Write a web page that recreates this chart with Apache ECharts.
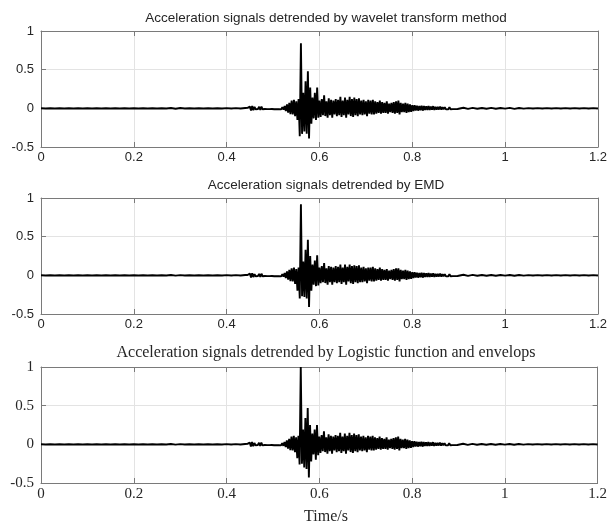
<!DOCTYPE html>
<html>
<head>
<meta charset="utf-8">
<script src="https://cdn.jsdelivr.net/npm/echarts@6/dist/echarts.min.js"></script>
<style>html,body{margin:0;padding:0;background:#fff}#c{width:610px;height:526px}</style>
</head>
<body>
<div id="c"></div>
<script>
// ---- data ----
const titles = [
  'Acceleration signals detrended by wavelet transform method',
  'Acceleration signals detrended by EMD',
  'Acceleration signals detrended by Logistic function and envelops'
];
const xTicks = [0, 0.2, 0.4, 0.6, 0.8, 1, 1.2];
const yTicks = [-0.5, 0, 0.5, 1];
const xLabel = 'Time/s';

// sampling of the three record segments (start time, step)
const quietStart = 0, quietStep = 0.01;
const burstStart = 0.44, burstStep = 0.0025;
const tailStart = 0.91, tailStep = 0.01;

// quiet part 0 .. 0.43 s
const quiet1 = [0.002,-0.002,0.002,-0.002,0.002,-0.002,0.002,-0.002,0.002,-0.002,0.002,-0.002,0.002,-0.002,0.002,-0.002,0.002,-0.002,0.002,-0.002,0.002,-0.002,0.002,-0.002,0.002,-0.002,0.002,-0.002,0.004,-0.005,0.004,-0.002,0.002,-0.002,0.002,-0.002,0.002,-0.002,0.002,-0.002,0.003,-0.003,0.003,-0.003];
const quiet2 = [0.002,-0.002,0.002,-0.002,0.002,-0.002,0.002,-0.002,0.002,-0.002,0.002,-0.002,0.002,-0.002,0.002,-0.002,0.002,-0.002,0.002,-0.002,0.002,-0.002,0.002,-0.002,0.002,-0.002,0.002,-0.002,0.004,-0.004,0.003,-0.002,0.002,-0.002,0.002,-0.002,0.002,-0.002,0.002,-0.002,0.003,-0.003,0.003,-0.003];
const quiet3 = [0.002,-0.002,0.002,-0.002,0.002,-0.002,0.002,-0.002,0.002,-0.002,0.002,-0.002,0.002,-0.002,0.002,-0.002,0.002,-0.002,0.002,-0.002,0.002,-0.002,0.002,-0.002,0.002,-0.002,0.002,-0.002,0.004,-0.004,0.003,-0.002,0.002,-0.002,0.002,-0.002,0.002,-0.002,0.002,-0.002,0.003,-0.003,0.003,-0.003];

// burst 0.44 .. 0.90 s
const burst1 = [
  0.004,-0.005,0.006,-0.005,0.022,-0.028,0.03,-0.024,0.018,-0.012,
  0.01,-0.008,0.02,-0.022,0.022,-0.012,0.01,-0.009,0.012,-0.01,
  0.008,-0.01,0.013,-0.009,0.011,-0.012,0.009,-0.01,0.013,-0.011,
  0.012,-0.013,0.016,-0.018,0.03,-0.035,0.05,-0.055,0.07,-0.075,
  0.1,-0.08,0.11,-0.1,0.09,-0.15,0.12,-0.36,0.84,-0.33,
  0.2,-0.3,0.35,-0.33,0.48,-0.39,0.27,-0.2,0.14,-0.13,
  0.2,-0.15,0.27,-0.12,0.1,-0.11,0.12,-0.09,0.17,-0.1,
  0.09,-0.12,0.13,-0.09,0.11,-0.12,0.1,-0.08,0.12,-0.1,
  0.11,-0.09,0.15,-0.11,0.1,-0.09,0.14,-0.12,0.11,-0.08,
  0.15,-0.1,0.12,-0.11,0.14,-0.09,0.12,-0.1,0.13,-0.08,
  0.1,-0.09,0.11,-0.08,0.09,-0.1,0.11,-0.07,0.1,-0.08,
  0.11,-0.08,0.09,-0.07,0.08,-0.06,0.1,-0.07,0.08,-0.06,
  0.07,-0.06,0.09,-0.07,0.06,-0.05,0.07,-0.06,0.08,-0.07,
  0.09,-0.06,0.1,-0.08,0.07,-0.05,0.06,-0.05,0.07,-0.06,
  0.06,-0.05,0.05,-0.045,0.04,-0.035,0.04,-0.03,0.035,-0.03,
  0.03,-0.025,0.035,-0.03,0.03,-0.02,0.025,-0.02,0.03,-0.02,
  0.022,-0.018,0.028,-0.02,0.018,-0.015,0.018,-0.015,0.022,-0.018,
  0.015,-0.012,0.016,-0.013,0.012,-0.011,0.015,-0.012,0.011,-0.01,
  0.012,-0.01,0.01,-0.008,0.008
];
const burst2 = [
  0.004,-0.005,0.005,-0.006,0.024,-0.028,0.028,-0.022,0.016,-0.012,
  0.01,-0.009,0.019,-0.022,0.021,-0.012,0.01,-0.009,0.012,-0.01,
  0.009,-0.01,0.012,-0.009,0.011,-0.011,0.009,-0.01,0.012,-0.011,
  0.012,-0.013,0.015,-0.018,0.03,-0.034,0.05,-0.055,0.07,-0.075,
  0.09,-0.08,0.1,-0.11,0.08,-0.2,0.1,-0.3,0.92,-0.27,
  0.18,-0.28,0.33,-0.3,0.46,-0.41,0.25,-0.2,0.14,-0.12,
  0.19,-0.14,0.26,-0.13,0.1,-0.1,0.12,-0.09,0.16,-0.1,
  0.09,-0.12,0.12,-0.09,0.11,-0.12,0.1,-0.09,0.12,-0.1,
  0.11,-0.09,0.14,-0.11,0.1,-0.09,0.14,-0.12,0.11,-0.08,
  0.14,-0.1,0.12,-0.11,0.13,-0.09,0.12,-0.1,0.13,-0.09,
  0.1,-0.09,0.11,-0.08,0.09,-0.1,0.1,-0.07,0.1,-0.08,
  0.11,-0.08,0.09,-0.07,0.08,-0.06,0.1,-0.07,0.08,-0.06,
  0.07,-0.06,0.08,-0.07,0.06,-0.05,0.07,-0.06,0.08,-0.07,
  0.09,-0.06,0.09,-0.08,0.07,-0.05,0.06,-0.05,0.07,-0.06,
  0.06,-0.05,0.05,-0.045,0.04,-0.035,0.04,-0.03,0.035,-0.03,
  0.03,-0.025,0.033,-0.03,0.03,-0.02,0.025,-0.02,0.03,-0.02,
  0.022,-0.018,0.026,-0.02,0.018,-0.015,0.018,-0.015,0.021,-0.018,
  0.015,-0.012,0.016,-0.013,0.012,-0.011,0.015,-0.012,0.011,-0.01,
  0.012,-0.01,0.01,-0.008,0.008
];
const burst3 = [
  0.004,-0.005,0.006,-0.005,0.024,-0.029,0.029,-0.024,0.017,-0.012,
  0.01,-0.008,0.02,-0.022,0.022,-0.013,0.01,-0.009,0.012,-0.01,
  0.008,-0.01,0.013,-0.009,0.011,-0.012,0.009,-0.01,0.013,-0.011,
  0.012,-0.013,0.016,-0.019,0.03,-0.035,0.05,-0.055,0.07,-0.075,
  0.1,-0.08,0.11,-0.1,0.09,-0.18,0.11,-0.26,1.0,-0.25,
  0.19,-0.3,0.34,-0.32,0.47,-0.43,0.25,-0.22,0.14,-0.13,
  0.19,-0.2,0.25,-0.14,0.1,-0.11,0.12,-0.09,0.17,-0.1,
  0.09,-0.12,0.13,-0.09,0.11,-0.12,0.1,-0.08,0.12,-0.1,
  0.11,-0.09,0.15,-0.11,0.1,-0.09,0.14,-0.12,0.11,-0.08,
  0.15,-0.1,0.12,-0.11,0.14,-0.09,0.12,-0.1,0.13,-0.08,
  0.1,-0.09,0.11,-0.08,0.09,-0.1,0.11,-0.07,0.1,-0.08,
  0.11,-0.08,0.09,-0.07,0.08,-0.06,0.1,-0.07,0.08,-0.06,
  0.07,-0.06,0.09,-0.07,0.06,-0.05,0.07,-0.06,0.08,-0.07,
  0.09,-0.06,0.1,-0.08,0.07,-0.05,0.06,-0.05,0.07,-0.06,
  0.06,-0.05,0.05,-0.045,0.04,-0.035,0.04,-0.03,0.035,-0.03,
  0.03,-0.025,0.035,-0.03,0.03,-0.02,0.025,-0.02,0.03,-0.02,
  0.022,-0.018,0.028,-0.02,0.018,-0.015,0.018,-0.015,0.022,-0.018,
  0.015,-0.012,0.016,-0.013,0.012,-0.011,0.015,-0.012,0.011,-0.01,
  0.012,-0.01,0.01,-0.008,0.008
];

// tail 0.91 .. 1.20 s
const tail1 = [0.008,-0.007,0.006,-0.006,0.005,-0.005,0.006,-0.005,0.004,-0.004,0.006,-0.007,0.005,-0.004,0.003,-0.003,0.003,-0.003,0.003,-0.003,0.003,-0.003,0.003,-0.003,0.003,-0.003,0.003,-0.003,0.003,-0.003];
const tail2 = [0.008,-0.007,0.006,-0.006,0.005,-0.005,0.005,-0.005,0.004,-0.004,0.005,-0.006,0.005,-0.004,0.003,-0.003,0.003,-0.003,0.003,-0.003,0.003,-0.003,0.003,-0.003,0.003,-0.003,0.003,-0.003,0.003,-0.003];
const tail3 = [0.008,-0.007,0.006,-0.006,0.005,-0.005,0.005,-0.005,0.004,-0.004,0.005,-0.006,0.005,-0.004,0.003,-0.003,0.003,-0.003,0.003,-0.003,0.003,-0.003,0.003,-0.003,0.003,-0.003,0.003,-0.003,0.003,-0.003];

const signals = [
  [quiet1, burst1, tail1],
  [quiet2, burst2, tail2],
  [quiet3, burst3, tail3]
];

// ---- build ----
function toPairs(segs) {
  const starts = [quietStart, burstStart, tailStart];
  const steps = [quietStep, burstStep, tailStep];
  const out = [];
  segs.forEach((vals, s) => {
    vals.forEach((v, i) => out.push([+(starts[s] + i * steps[s]).toFixed(5), v]));
  });
  return out;
}

const gridTops = [31, 198, 367];
const gridH = 116;
const sans = 'Liberation Sans, Arial, sans-serif';
const serif = 'Liberation Serif, Times New Roman, serif';
const fonts = [sans, sans, serif];
const tickSize = [13, 13, 15];
const titleSize = [13.5, 13.5, 16];
const boxColor = '#7a7a7a';
const textColor = '#262626';

const grids = [], xAxes = [], yAxes = [], series = [], titleComps = [];
for (let k = 0; k < 3; k++) {
  grids.push({left: 41, right: 9, top: gridTops[k], height: gridH});
  const axisLine = {show: true, onZero: false, lineStyle: {color: boxColor, width: 1}};
  const axisTick = {show: true, inside: true, length: 5, lineStyle: {color: boxColor}};
  xAxes.push({
    gridIndex: k, type: 'value', position: 'bottom',
    min: xTicks[0], max: xTicks[xTicks.length - 1], interval: 0.2,
    axisLine, axisTick,
    axisLabel: {color: textColor, fontFamily: fonts[k], fontSize: tickSize[k], margin: 4},
    splitLine: {show: true, lineStyle: {color: '#e3e3e3', width: 1}}
  });
  xAxes.push({
    gridIndex: k, type: 'value', position: 'top',
    min: xTicks[0], max: xTicks[xTicks.length - 1], interval: 0.2,
    axisLine, axisTick, axisLabel: {show: false}, splitLine: {show: false}
  });
  yAxes.push({
    gridIndex: k, type: 'value', position: 'left',
    min: yTicks[0], max: yTicks[yTicks.length - 1], interval: 0.5,
    axisLine, axisTick,
    axisLabel: {color: textColor, fontFamily: fonts[k], fontSize: tickSize[k], margin: 7},
    splitLine: {show: true, lineStyle: {color: '#e3e3e3', width: 1}}
  });
  yAxes.push({
    gridIndex: k, type: 'value', position: 'right',
    min: yTicks[0], max: yTicks[yTicks.length - 1], interval: 0.5,
    axisLine, axisTick, axisLabel: {show: false}, splitLine: {show: false}
  });
  series.push({
    type: 'line', xAxisIndex: 2 * k, yAxisIndex: 2 * k,
    data: toPairs(signals[k]), showSymbol: false, symbol: 'none',
    lineStyle: {color: '#000', width: 1.9}, clip: true, z: 3
  });
  titleComps.push({
    text: titles[k], left: 41 + (610 - 41 - 9) / 2, textAlign: 'center',
    top: gridTops[k] - (k === 2 ? 27 : 25),
    textStyle: {fontFamily: fonts[k], fontSize: titleSize[k], fontWeight: 'normal', color: textColor}
  });
}
titleComps.push({
  text: xLabel, left: 41 + (610 - 41 - 9) / 2, textAlign: 'center', top: 504,
  textStyle: {fontFamily: serif, fontSize: 16, fontWeight: 'normal', color: textColor}
});

const chart = echarts.init(document.getElementById('c'), null, {renderer: 'canvas'});
chart.setOption({
  animation: false,
  backgroundColor: '#fff',
  title: titleComps,
  grid: grids,
  xAxis: xAxes,
  yAxis: yAxes,
  series: series
});
</script>
</body>
</html>
